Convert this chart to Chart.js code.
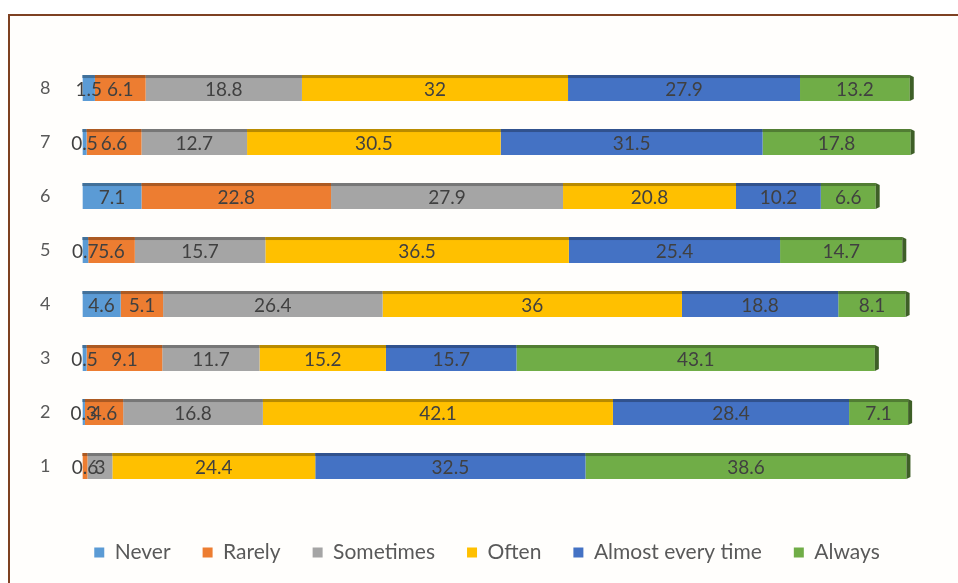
<!DOCTYPE html>
<html>
<head>
<meta charset="utf-8">
<script src="https://cdn.jsdelivr.net/npm/chart.js@4"></script>
<style>
    html, body { margin: 0; padding: 0; background: #fff; }
    #wrap { position: relative; width: 958px; height: 583px; overflow: hidden; }
    #frame {
        position: absolute; left: 8px; top: 14px; width: 1000px; height: 600px;
        border-left: 2px solid #7e4122; border-top: 2px solid #7e4122;
        background: #fffefc;
    }
    #myChart { position: absolute; left: 0; top: 0; }
</style>
</head>
<body>
<div id="wrap">
    <div id="frame"></div>
    <canvas id="myChart" width="958" height="583"></canvas>
</div>
<script>
// 행 라벨 (아래에서 위로 1..8)
const categories = ['1', '2', '3', '4', '5', '6', '7', '8'];

const never      = [0,    0.3,  0.5,  4.6,  0.7,  7.1,  0.5,  1.5];
const rarely     = [0.6,  4.6,  9.1,  5.1,  5.6,  22.8, 6.6,  6.1];
const sometimes  = [3,    16.8, 11.7, 26.4, 15.7, 27.9, 12.7, 18.8];
const often      = [24.4, 42.1, 15.2, 36,   36.5, 20.8, 30.5, 32];
const almostEvery = [32.5, 28.4, 15.7, 18.8, 25.4, 10.2, 31.5, 27.9];
const always     = [38.6, 7.1,  43.1, 8.1,  14.7, 6.6,  17.8, 13.2];

const seriesNames = ['Never', 'Rarely', 'Sometimes', 'Often', 'Almost every time', 'Always'];
const seriesColors = ['#5b9bd5', '#ed7d31', '#a5a5a5', '#ffc000', '#4472c4', '#70ad47'];
const seriesData = [never, rarely, sometimes, often, almostEvery, always];

const FONT = 'Lato, "Open Sans", sans-serif';

function darken(hex, f) {
    const n = parseInt(hex.slice(1), 16);
    const r = Math.round(((n >> 16) & 255) * f);
    const g = Math.round(((n >> 8) & 255) * f);
    const b = Math.round((n & 255) * f);
    return `rgb(${r},${g},${b})`;
}

// 3D 느낌의 윗면/끝면 + 데이터 라벨
const barDecor = {
    id: 'barDecor',
    afterDatasetsDraw(chart) {
        const ctx = chart.ctx;
        const nSets = chart.data.datasets.length;
        ctx.save();
        chart.data.datasets.forEach((ds, di) => {
            const meta = chart.getDatasetMeta(di);
            meta.data.forEach((bar, i) => {
                const v = ds.data[i];
                if (!v) return;
                const p = bar.getProps(['x', 'y', 'base', 'height'], true);
                const top = p.y - p.height / 2;
                const bot = p.y + p.height / 2;
                ctx.fillStyle = darken(seriesColors[di], 0.72);
                ctx.fillRect(p.base, top, p.x - p.base, 3);
                // 마지막 구간이면 오른쪽 끝면
                let last = true;
                for (let k = di + 1; k < nSets; k++) if (chart.data.datasets[k].data[i]) last = false;
                if (last) {
                    ctx.fillStyle = darken(seriesColors[di], 0.55);
                    ctx.beginPath();
                    ctx.moveTo(p.x, top);
                    ctx.lineTo(p.x + 4, top + 2);
                    ctx.lineTo(p.x + 4, bot - 2);
                    ctx.lineTo(p.x, bot);
                    ctx.closePath();
                    ctx.fill();
                }
            });
        });
        ctx.font = '19px ' + FONT;
        ctx.textAlign = 'center';
        ctx.textBaseline = 'middle';
        ctx.fillStyle = '#404040';
        chart.data.datasets.forEach((ds, di) => {
            const meta = chart.getDatasetMeta(di);
            meta.data.forEach((bar, i) => {
                const v = ds.data[i];
                if (!v) return;
                const p = bar.getProps(['x', 'y', 'base'], true);
                ctx.fillText(String(v), (p.x + p.base) / 2, p.y + 2);
            });
        });
        ctx.restore();
    }
};

const ctx = document.getElementById('myChart').getContext('2d');
const myChart = new Chart(ctx, {
    type: 'bar',
    data: {
        labels: categories,
        datasets: seriesNames.map((name, i) => ({
            label: name,
            data: seriesData[i],
            backgroundColor: seriesColors[i],
            borderWidth: 0,
            categoryPercentage: 1,
            barPercentage: 0.48
        }))
    },
    options: {
        indexAxis: 'y',
        responsive: false,
        animation: false,
        layout: { padding: { left: 16, right: 0, top: 61, bottom: 10 } },
        scales: {
            x: {
                stacked: true,
                min: 0,
                max: 105.3,
                grid: { display: false },
                border: { display: false },
                ticks: { display: false },
                afterFit(scale) { scale.height = 17; }
            },
            y: {
                stacked: true,
                reverse: true,
                grid: { display: false },
                border: { display: false },
                ticks: {
                    color: '#595959',
                    font: { family: FONT, size: 18 },
                    padding: 24
                }
            }
        },
        plugins: {
            tooltip: { enabled: false },
            legend: {
                position: 'bottom',
                labels: {
                    color: '#595959',
                    font: { family: FONT, size: 21 },
                    boxWidth: 10,
                    boxHeight: 10,
                    padding: 32
                }
            }
        }
    },
    plugins: [barDecor]
});
</script>
</body>
</html>
